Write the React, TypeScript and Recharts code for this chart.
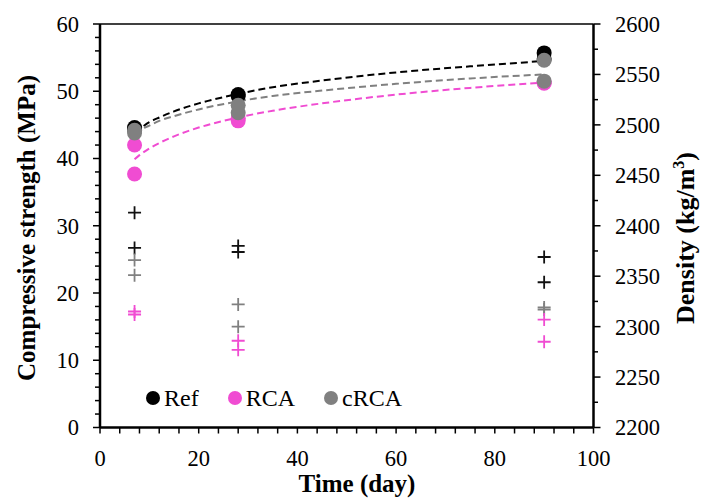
import React from "react";
import { ComposedChart, Scatter, Line, XAxis, YAxis, Legend, ReferenceLine } from "recharts";

// replicate specimens, two per age
const specimenDays = [7, 7, 28, 28, 90, 90];
const refStrength = [44.6, 44.3, 49.5, 49.3, 55.7, 54.8];
const rcaStrength = [42.0, 37.7, 46.0, 45.6, 51.3, 51.2];
const crcaStrength = [44.2, 43.8, 47.9, 46.8, 54.6, 51.5];

const refDensity = [2413, 2378, 2380, 2374, 2369, 2344];
const rcaDensity = [2315, 2312, 2286, 2277, 2307, 2285];
const crcaDensity = [2366, 2351, 2322, 2300, 2319, 2317];

// logarithmic trend lines
const trendDays = [7, 8, 10, 12, 15, 20, 28, 35, 45, 60, 75, 90];
const refTrend = [43.9, 44.4, 45.4, 46.1, 47.0, 48.2, 49.6, 50.6, 51.6, 52.8, 53.7, 54.5];
const rcaTrend = [39.9, 40.5, 41.5, 42.3, 43.3, 44.6, 46.1, 47.1, 48.2, 49.5, 50.5, 51.3];
const crcaTrend = [43.7, 44.2, 44.9, 45.6, 46.3, 47.3, 48.5, 49.3, 50.1, 51.1, 51.9, 52.5];

const timeTicks = [0, 4, 8, 12, 16, 20, 24, 28, 32, 36, 40, 44, 48, 52, 56, 60, 64, 68, 72, 76, 80, 84, 88, 92, 96, 100];
const strengthTicks = [0, 2, 4, 6, 8, 10, 12, 14, 16, 18, 20, 22, 24, 26, 28, 30, 32, 34, 36, 38, 40, 42, 44, 46, 48, 50, 52, 54, 56, 58, 60];
const densityTicks = [2200, 2225, 2250, 2275, 2300, 2325, 2350, 2375, 2400, 2425, 2450, 2475, 2500, 2525, 2550, 2575, 2600];

const BLACK = "#000000";
const PINK = "#f04cd2";
const GRAY = "#808080";
const FONT = "'Liberation Serif', 'Times New Roman', serif";

const pts = (xs: number[], ys: number[]) => xs.map((x, i) => ({ x, y: ys[i] }));

const dot = (color: string) => (p: any) => <circle cx={p.cx} cy={p.cy} r={7.5} fill={color} />;
const plus = (color: string) => (p: any) => (
  <path
    d={`M${p.cx - 6.5},${p.cy}h13M${p.cx},${p.cy - 6.5}v13`}
    stroke={color}
    strokeWidth={1.8}
    fill="none"
  />
);

const XTick = (props: any) => {
  const { x, y, payload } = props;
  return (
    <g>
      <line x1={x} x2={x} y1={y} y2={y + 6} stroke="#000" strokeWidth={1.5} />
      {payload.value % 20 === 0 && (
        <text x={x} y={y + 38.5} textAnchor="middle" fontSize={22.5} fontFamily={FONT} fill="#000">
          {payload.value}
        </text>
      )}
    </g>
  );
};

const LeftTick = (props: any) => {
  const { x, y, payload } = props;
  const major = payload.value % 10 === 0;
  return (
    <g>
      <line x1={x} x2={x - (major ? 7 : 5)} y1={y} y2={y} stroke="#000" strokeWidth={1.5} />
      {major && (
        <text x={x - 21} y={y} dy="0.35em" textAnchor="end" fontSize={22.5} fontFamily={FONT} fill="#000">
          {payload.value}
        </text>
      )}
    </g>
  );
};

const RightTick = (props: any) => {
  const { x, y, payload } = props;
  const major = payload.value % 50 === 0;
  return (
    <g>
      <line x1={x} x2={x + (major ? 7 : 4.5)} y1={y} y2={y} stroke="#000" strokeWidth={1.5} />
      {major && (
        <text x={x + 21.5} y={y} dy="0.35em" textAnchor="start" fontSize={22.5} fontFamily={FONT} fill="#000">
          {payload.value}
        </text>
      )}
    </g>
  );
};

const legendItems = [
  { name: "Ref", color: BLACK },
  { name: "RCA", color: PINK },
  { name: "cRCA", color: GRAY },
];

const LegendBox = () => (
  <div style={{ display: "flex", alignItems: "center", fontFamily: FONT, fontSize: 24, lineHeight: "28px" }}>
    {legendItems.map((it) => (
      <div key={it.name} style={{ display: "flex", alignItems: "center", marginRight: 29 }}>
        <span style={{ width: 14, height: 14, borderRadius: 7, background: it.color, marginRight: 4 }} />
        <span>{it.name}</span>
      </div>
    ))}
  </div>
);

export default function App() {
  return (
    <div>
      <style>{"body{margin:0;background:#fff}"}</style>
      <ComposedChart width={701} height={503} margin={{ top: 24, right: 0, bottom: 0, left: 0 }}>
        <XAxis
          type="number"
          dataKey="x"
          domain={[0, 100]}
          ticks={timeTicks}
          interval={0}
          height={75.5}
          tickSize={0}
          tickMargin={0}
          tick={<XTick />}
          axisLine={{ stroke: "#000", strokeWidth: 2.5 }}
          label={() => (
            <text x={357} y={492} textAnchor="middle" fontSize={25} fontWeight="bold" fontFamily={FONT} fill="#000">
              Time (day)
            </text>
          )}
        />
        <YAxis
          yAxisId="s"
          type="number"
          dataKey="y"
          domain={[0, 60]}
          ticks={strengthTicks}
          interval={0}
          width={100}
          tickSize={0}
          tickMargin={0}
          tick={<LeftTick />}
          axisLine={{ stroke: "#000", strokeWidth: 2.5 }}
          label={() => (
            <text
              x={35}
              y={228}
              transform="rotate(-90 35 228)"
              textAnchor="middle"
              fontSize={25}
              fontWeight="bold"
              fontFamily={FONT}
              fill="#000"
            >
              Compressive strength (MPa)
            </text>
          )}
        />
        <YAxis
          yAxisId="d"
          orientation="right"
          type="number"
          dataKey="y"
          domain={[2200, 2600]}
          ticks={densityTicks}
          interval={0}
          width={107.5}
          tickSize={0}
          tickMargin={0}
          tick={<RightTick />}
          axisLine={{ stroke: "#000", strokeWidth: 2.5 }}
          label={() => (
            <text
              x={694}
              y={238}
              transform="rotate(-90 694 238)"
              textAnchor="middle"
              fontSize={26}
              fontWeight="bold"
              fontFamily={FONT}
              fill="#000"
            >
              Density (kg/m<tspan dy={-10} fontSize={16}>3</tspan>
              <tspan dy={10}>)</tspan>
            </text>
          )}
        />
        <ReferenceLine yAxisId="s" y={60} stroke="#000" strokeWidth={1.5} />

        <Scatter yAxisId="d" name="Ref density" data={pts(specimenDays, refDensity)} shape={plus("#111")} isAnimationActive={false} legendType="none" />
        <Scatter yAxisId="d" name="cRCA density" data={pts(specimenDays, crcaDensity)} shape={plus(GRAY)} isAnimationActive={false} legendType="none" />
        <Scatter yAxisId="d" name="RCA density" data={pts(specimenDays, rcaDensity)} shape={plus(PINK)} isAnimationActive={false} legendType="none" />

        <Scatter yAxisId="s" name="Ref" data={pts(specimenDays, refStrength)} shape={dot(BLACK)} isAnimationActive={false} />
        <Scatter yAxisId="s" name="RCA" data={pts(specimenDays, rcaStrength)} shape={dot(PINK)} isAnimationActive={false} />
        <Scatter yAxisId="s" name="cRCA" data={pts(specimenDays, crcaStrength)} shape={dot(GRAY)} isAnimationActive={false} />

        <Line yAxisId="s" data={pts(trendDays, refTrend)} dataKey="y" type="monotone" stroke={BLACK} strokeWidth={2} strokeDasharray="7 4" dot={false} isAnimationActive={false} legendType="none" />
        <Line yAxisId="s" data={pts(trendDays, crcaTrend)} dataKey="y" type="monotone" stroke={GRAY} strokeWidth={2} strokeDasharray="7 4" dot={false} isAnimationActive={false} legendType="none" />
        <Line yAxisId="s" data={pts(trendDays, rcaTrend)} dataKey="y" type="monotone" stroke={PINK} strokeWidth={2} strokeDasharray="7 4" dot={false} isAnimationActive={false} legendType="none" />

        <Legend
          layout="horizontal"
          verticalAlign="middle"
          align="center"
          content={() => <LegendBox />}
          wrapperStyle={{ left: 146, top: 384, width: "auto", height: 28 }}
        />
      </ComposedChart>
    </div>
  );
}
